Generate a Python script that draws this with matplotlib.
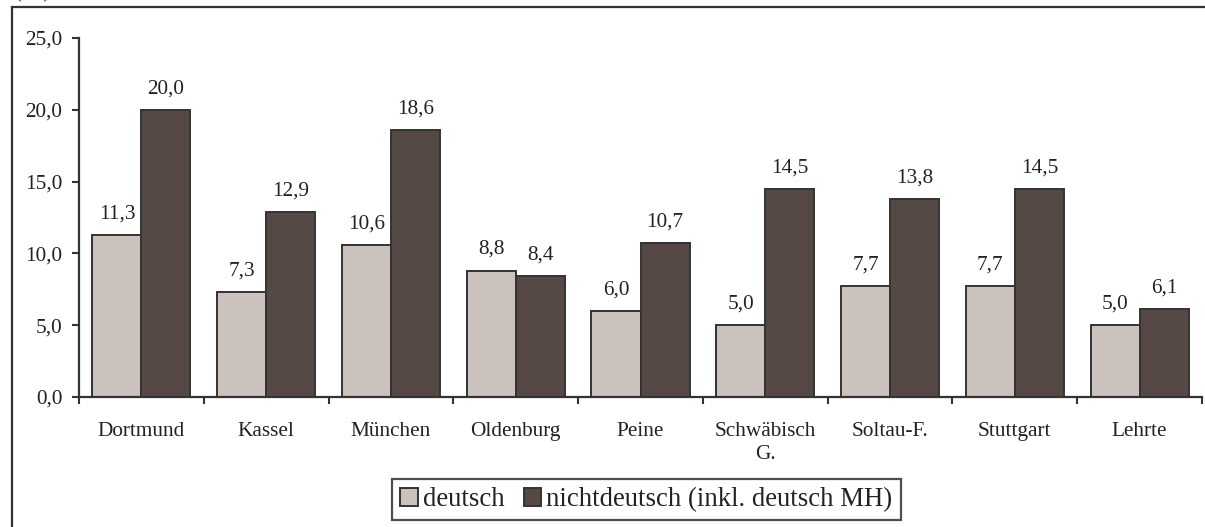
import matplotlib
matplotlib.use("Agg")
import matplotlib.pyplot as plt
from matplotlib.lines import Line2D
import numpy as np

cities = ["Dortmund", "Kassel", "München", "Oldenburg", "Peine",
          "Schwäbisch\nG.", "Soltau-F.", "Stuttgart", "Lehrte"]
deutsch = [11.3, 7.3, 10.6, 8.8, 6.0, 5.0, 7.7, 7.7, 5.0]
nichtdeutsch = [20.0, 12.9, 18.6, 8.4, 10.7, 14.5, 13.8, 14.5, 6.1]
series_names = ["deutsch", "nichtdeutsch (inkl. deutsch MH)"]
yticks = [0, 5, 10, 15, 20, 25]

plt.rcParams["font.family"] = ["Liberation Serif", "DejaVu Serif"]

light = "#cbc1bd"
dark = "#564845"
edge = "#333333"
text_color = "#222222"
fs = 15.3

fig = plt.figure(figsize=(12.05, 5.27), dpi=100)
ax = fig.add_axes([0.0656, 0.2467, 0.9319, 0.6812])

x = np.arange(len(cities))
w = 0.393
b1 = ax.bar(x - w / 2, deutsch, width=w, color=light, edgecolor=edge,
            linewidth=1.4, label=series_names[0])
b2 = ax.bar(x + w / 2, nichtdeutsch, width=w, color=dark, edgecolor=edge,
            linewidth=1.4, label=series_names[1])

def fmt(v):
    return f"{v:.1f}".replace(".", ",")

for bars, vals in ((b1, deutsch), (b2, nichtdeutsch)):
    for rect, v in zip(bars, vals):
        ax.annotate(fmt(v), (rect.get_x() + rect.get_width() / 2, v),
                    xytext=(0, 12), textcoords="offset points",
                    ha="center", va="baseline", fontsize=fs,
                    color=text_color)

ax.set_xlim(-0.5, len(cities) - 0.5)
ax.set_ylim(0, 25)
ax.set_yticks(yticks)
ax.set_yticklabels([fmt(v) for v in yticks], fontsize=fs, color=text_color)

# category labels at centres, tick marks at category boundaries
ax.set_xticks(x)
ax.set_xticklabels(cities, fontsize=fs, color=text_color, linespacing=1.3)
ax.tick_params(axis="x", which="major", length=0, pad=18)
ax.set_xticks(np.arange(len(cities) + 1) - 0.5, minor=True)
ax.tick_params(axis="x", which="minor", length=5, width=1.5,
               color=edge, direction="out")
ax.tick_params(axis="y", length=5, width=1.5, color=edge,
               direction="out", pad=7)

for s in ("top", "right"):
    ax.spines[s].set_visible(False)
for s in ("left", "bottom"):
    ax.spines[s].set_linewidth(1.6)
    ax.spines[s].set_color(edge)

leg = fig.legend(loc="center", bbox_to_anchor=(0.5365, 0.0522),
                 ncol=2, fontsize=19.3, frameon=True, fancybox=False,
                 handlelength=0.65, handleheight=0.65, handletextpad=0.2,
                 columnspacing=0.7, borderpad=0.3, borderaxespad=0)
leg.get_frame().set_edgecolor("#222222")
leg.get_frame().set_linewidth(1.6)
for t in leg.get_texts():
    t.set_color(text_color)

# outer frame (runs off the right and bottom edges)
x0 = 12 / 1205
y0 = 1 - 7 / 527
fig.add_artist(Line2D([x0, 1.01], [y0, y0], transform=fig.transFigure,
                      color="#333333", linewidth=1.6))
fig.add_artist(Line2D([x0, x0], [y0, -0.01], transform=fig.transFigure,
                      color="#333333", linewidth=1.6))

# unit label sitting above the frame, mostly outside the canvas
fig.text(0.011, 1 + 4 / 527, "(%)", fontsize=19.3, color="#555555",
         ha="left", va="baseline")

fig.savefig("out.png", dpi=100, facecolor="white")
